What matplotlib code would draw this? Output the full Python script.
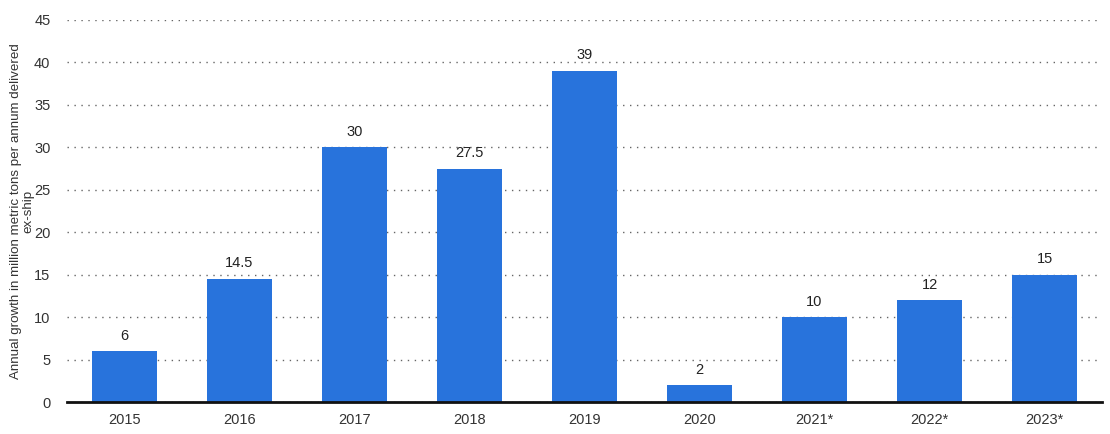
import matplotlib.pyplot as plt

years = ['2015', '2016', '2017', '2018', '2019', '2020', '2021*', '2022*', '2023*']
growth = [6, 14.5, 30, 27.5, 39, 2, 10, 12, 15]
value_labels = ['6', '14.5', '30', '27.5', '39', '2', '10', '12', '15']

plt.rcParams['font.family'] = ['Liberation Sans', 'DejaVu Sans']

fig = plt.figure(figsize=(11.1, 4.34), dpi=100)
ax = fig.add_axes([0.0604, 0.0737, 0.9324, 0.8803])

x = range(len(years))
bars = ax.bar(x, growth, width=0.565, color='#2873dc', zorder=2)
for xi, v, lab in zip(x, growth, value_labels):
    ax.text(xi, v + 1.0, lab, ha='center', va='bottom', fontsize=10.5, color='#222222')

ax.set_xlim(-0.5, len(years) - 0.5)
ax.set_ylim(0, 45)
ax.set_yticks(range(0, 50, 5))
ax.set_xticks(list(x))
ax.set_xticklabels(years)
ax.tick_params(axis='both', length=0, labelsize=10.5, colors='#333333')
ax.tick_params(axis='y', pad=12)
ax.tick_params(axis='x', pad=8)

ax.grid(axis='y', linestyle=(0, (1, 4)), color='#666666', linewidth=1.0, zorder=0)
for s in ['top', 'right', 'left']:
    ax.spines[s].set_visible(False)
ax.spines['bottom'].set_linewidth(2)
ax.spines['bottom'].set_color('#111111')
ax.spines['bottom'].set_zorder(3)

# y label placed by hand so "ex-ship" sits right against the tick labels
fig.text(22 / 1110, 1 - 211 / 434,
         'Annual growth in million metric tons per annum delivered\nex-ship',
         rotation=90, ha='center', va='center', multialignment='center',
         fontsize=9.6, color='#333333', linespacing=1.05)

fig.savefig('out.png', dpi=100)
